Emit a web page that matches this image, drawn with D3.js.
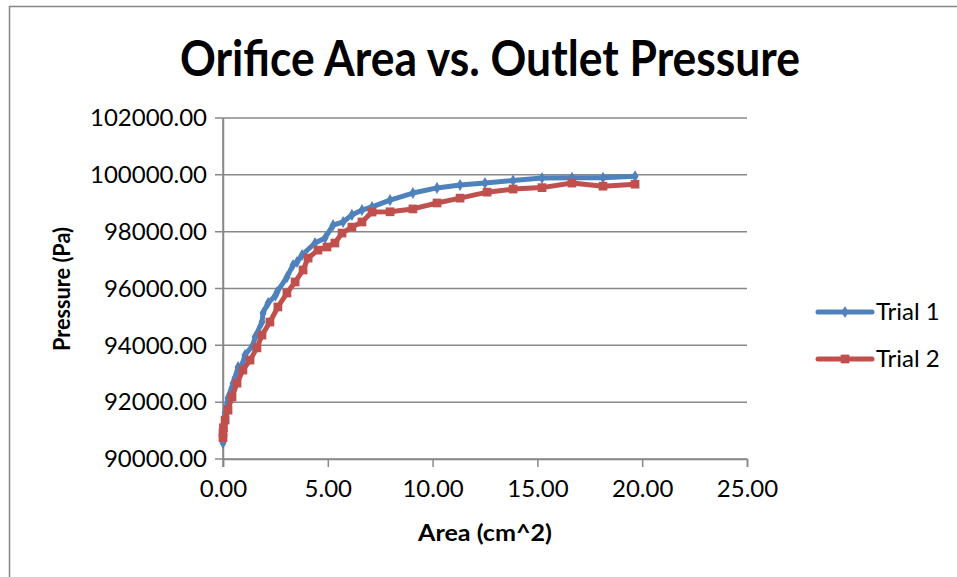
<!DOCTYPE html>
<html><head><meta charset="utf-8">
<script src="https://cdn.jsdelivr.net/npm/d3@7"></script>
<style>html,body{margin:0;padding:0;background:#fff;}svg{display:block;}</style>
</head><body>
<svg id="c" width="957" height="577"></svg>
<script>
const title = "Orifice Area vs. Outlet Pressure";
const xLabel = "Area (cm^2)";
const yLabel = "Pressure (Pa)";
const seriesNames = ["Trial 1", "Trial 2"];
const xTicks = [0, 5, 10, 15, 20, 25];
const yTicks = [90000, 92000, 94000, 96000, 98000, 100000, 102000];

const trial1Area = [0.00, 0.02, 0.06, 0.10, 0.24, 0.48, 0.57, 0.72, 0.91, 1.05, 1.43, 1.53, 1.86, 1.91, 2.15, 2.50, 2.58, 3.05, 3.34, 3.53, 3.77, 4.39, 4.87, 5.25, 5.73, 6.15, 6.63, 7.11, 7.97, 9.06, 10.21, 11.31, 12.50, 13.84, 15.22, 16.65, 18.13, 19.66];
const trial1Pressure = [90560, 90900, 91250, 91620, 92150, 92670, 92850, 93240, 93310, 93660, 94010, 94290, 94820, 95140, 95490, 95750, 95880, 96400, 96830, 96930, 97180, 97600, 97780, 98230, 98340, 98590, 98760, 98870, 99110, 99360, 99540, 99640, 99710, 99800, 99890, 99900, 99900, 99950];

const trial2Area = [0.00, 0.00, 0.02, 0.10, 0.24, 0.43, 0.67, 0.95, 1.29, 1.62, 1.86, 2.24, 2.62, 3.05, 3.44, 3.82, 4.06, 4.53, 4.96, 5.34, 5.68, 6.15, 6.63, 7.11, 7.97, 9.06, 10.21, 11.31, 12.60, 13.84, 15.22, 16.65, 18.13, 19.66];
const trial2Pressure = [90750, 90920, 91100, 91370, 91720, 92180, 92670, 93130, 93480, 93910, 94360, 94820, 95350, 95840, 96230, 96650, 97070, 97350, 97460, 97600, 97950, 98160, 98340, 98690, 98700, 98800, 99010, 99180, 99390, 99500, 99550, 99710, 99600, 99670];

const colors = ["#4F81BD", "#C0504D"];
const font = "Lato, 'Open Sans', sans-serif";

const svg = d3.select("#c");
svg.append("rect").attr("x", 9.5).attr("y", 6.5).attr("width", 1000).attr("height", 1000)
  .attr("fill", "none").attr("stroke", "#868686").attr("stroke-width", 1.5);

const x = d3.scaleLinear().domain([0, 25]).range([223, 747]);
const y = d3.scaleLinear().domain([90000, 102000]).range([459, 118]);

svg.append("g").selectAll("line").data(yTicks).join("line")
  .attr("x1", 215).attr("x2", 747)
  .attr("y1", d => y(d)).attr("y2", d => y(d))
  .attr("stroke", "#888").attr("stroke-width", 1.5);

const yAxis = svg.append("g").attr("transform", "translate(223,0)")
  .call(d3.axisLeft(y).tickValues(yTicks).tickFormat(d3.format(".2f")).tickSize(0).tickPadding(16));
yAxis.select(".domain").attr("stroke", "#888").attr("stroke-width", 1.5);
yAxis.selectAll("text").attr("font-family", font).attr("font-size", 24).attr("fill", "#000");

const xAxis = svg.append("g").attr("transform", "translate(0,459)")
  .call(d3.axisBottom(x).tickValues(xTicks).tickFormat(d3.format(".2f")).tickSize(8).tickPadding(13));
xAxis.select(".domain").attr("stroke", "#888").attr("stroke-width", 1.5);
xAxis.selectAll(".tick line").attr("stroke", "#888").attr("stroke-width", 1.5);
xAxis.selectAll("text").attr("font-family", font).attr("font-size", 24).attr("fill", "#000");
svg.append("line").attr("x1", 223).attr("x2", 223).attr("y1", 118).attr("y2", 467)
  .attr("stroke", "#888").attr("stroke-width", 1.5);

const series = [
  {name: seriesNames[0], pts: trial1Area.map((a, i) => [a, trial1Pressure[i]]), color: colors[0], shape: "diamond"},
  {name: seriesNames[1], pts: trial2Area.map((a, i) => [a, trial2Pressure[i]]), color: colors[1], shape: "square"}
];
const line = d3.line().x(d => x(d[0])).y(d => y(d[1]));
const sym = s => s === "diamond" ? d3.symbol(d3.symbolDiamond, 42)() : d3.symbol(d3.symbolSquare, 76)();

series.forEach(s => {
  svg.append("path").datum(s.pts).attr("d", line)
    .attr("fill", "none").attr("stroke", s.color).attr("stroke-width", 5)
    .attr("stroke-linejoin", "round").attr("stroke-linecap", "round");
  svg.append("g").selectAll("path").data(s.pts).join("path")
    .attr("d", sym(s.shape))
    .attr("transform", d => `translate(${x(d[0])},${y(d[1])})`)
    .attr("fill", s.color);
});

svg.append("text").attr("x", 490).attr("y", 76).attr("text-anchor", "middle")
  .attr("font-family", font).attr("font-weight", "bold").attr("font-size", 49)
  .attr("textLength", 620).attr("lengthAdjust", "spacingAndGlyphs")
  .text(title);

svg.append("text").attr("x", 485).attr("y", 541).attr("text-anchor", "middle")
  .attr("font-family", font).attr("font-weight", "bold").attr("font-size", 23)
  .attr("textLength", 134).attr("lengthAdjust", "spacingAndGlyphs").text(xLabel);
svg.append("text").attr("transform", "translate(70,289) rotate(-90)").attr("text-anchor", "middle")
  .attr("font-family", font).attr("font-weight", "bold").attr("font-size", 23)
  .attr("textLength", 124).attr("lengthAdjust", "spacingAndGlyphs").text(yLabel);

const lg = svg.append("g");
series.forEach((s, i) => {
  const ly = 312 + i * 47;
  lg.append("line").attr("x1", 818).attr("x2", 872).attr("y1", ly).attr("y2", ly)
    .attr("stroke", s.color).attr("stroke-width", 5).attr("stroke-linecap", "round");
  lg.append("path").attr("d", sym(s.shape)).attr("transform", `translate(845,${ly})`).attr("fill", s.color);
  lg.append("text").attr("x", 876).attr("y", ly).attr("dy", "0.35em")
    .attr("font-family", font).attr("font-size", 24).attr("fill", "#000").text(s.name);
});
</script>
</body></html>
